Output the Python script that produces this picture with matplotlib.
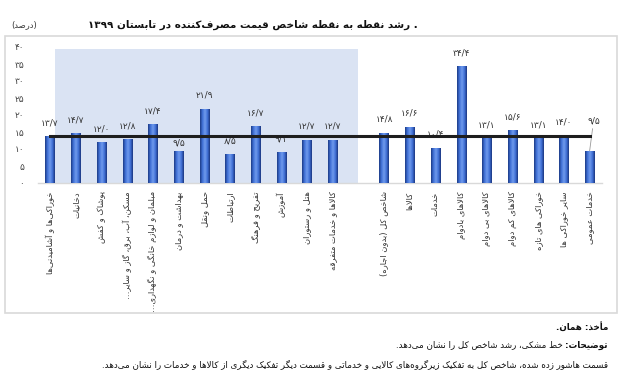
import re
import unicodedata
import matplotlib
matplotlib.use('Agg')
import matplotlib.pyplot as plt
import numpy as np
from matplotlib.colors import LinearSegmentedColormap
from matplotlib.patches import Rectangle

# sub-groups of the index (shaded part)
cats_a = ['خوراکی‌ها و آشامیدنی‌ها', 'دخانیات', 'پوشاک و کفش',
          'مسکن، آب، برق، گاز و سایر…', 'مبلمان و لوازم خانگی و نگهداری…',
          'بهداشت و درمان', 'حمل ونقل', 'ارتباطات', 'تفریح و فرهنگ', 'آموزش',
          'هتل و رستوران', 'کالاها و خدمات متفرقه']
vals_a = [13.7, 14.7, 12.0, 12.8, 17.4, 9.5, 21.9, 8.5, 16.7, 9.1, 12.7, 12.7]

# other breakdown
cats_b = ['شاخص کل (بدون اجاره)', 'کالاها', 'خدمات', 'کالاهای بادوام',
          'کالاهای بی دوام', 'کالاهای کم دوام', 'خوراکی های تازه',
          'سایر خوراکی ها', 'خدمات عمومی']
vals_b = [14.8, 16.6, 10.4, 34.4, 13.1, 15.6, 13.1, 14.0, 9.5]

total_growth = 13.8
yticks = [0, 5, 10, 15, 20, 25, 30, 35, 40]

title = '. رشد نقطه به نقطه شاخص قیمت مصرف‌کننده در تابستان ۱۳۹۹'
unit = '(درصد)'
source = 'مأخذ: همان.'
note_head = 'توضیحات:'
note_body = 'خط مشکی، رشد شاخص کل را نشان می‌دهد.'
note2 = 'قسمت هاشور زده شده، شاخص کل به تفکیک زیرگروه‌های کالایی و خدماتی و قسمت دیگر تفکیک دیگری از کالاها و خدمات را نشان می‌دهد.'


# --- minimal persian shaping + rtl ordering (matplotlib has none) ---
NON_LEFT = set('اآأإدذرزژوؤ')
LAM_ALEF = {'ا': '\ufefb', 'أ': '\ufef7', 'إ': '\ufef9', 'آ': '\ufef5'}


def joiner(c):
    return unicodedata.name(c, '').startswith('ARABIC LETTER') and c != 'ء'


def pform(c, kind):
    try:
        return unicodedata.lookup(unicodedata.name(c) + ' ' + kind + ' FORM')
    except KeyError:
        return c


def fa(s):
    out = []
    i = 0
    while i < len(s):
        c = s[i]
        if not joiner(c):
            if c != '\u200c':
                out.append(c)
            i += 1
            continue
        prev = s[i - 1] if i else ''
        nxt = s[i + 1] if i + 1 < len(s) else ''
        jp = bool(prev) and joiner(prev) and prev not in NON_LEFT
        if c == 'ل' and nxt in LAM_ALEF and nxt:
            lig = LAM_ALEF[nxt]
            out.append(chr(ord(lig) + 1) if jp else lig)
            i += 2
            continue
        jn = bool(nxt) and joiner(nxt) and c not in NON_LEFT
        kind = {(True, True): 'MEDIAL', (True, False): 'FINAL',
                (False, True): 'INITIAL', (False, False): 'ISOLATED'}[(jp, jn)]
        out.append(pform(c, kind))
        i += 1
    toks = re.findall(r'[0-9۰-۹]+(?:[/٫.][0-9۰-۹]+)*|.', ''.join(out), re.S)
    mirror = {'(': ')', ')': '('}
    return ''.join(mirror.get(t, t) for t in reversed(toks))


def fnum(v, fmt='{:.1f}'):
    return fmt.format(v).translate(str.maketrans('0123456789.', '۰۱۲۳۴۵۶۷۸۹/'))


W, H = 629, 384


def px(x, y):
    return x / W, 1 - y / H


plt.rcParams['font.family'] = ['DejaVu Sans']
fig = plt.figure(figsize=(W / 100, H / 100), dpi=100)

# frame around chart
fig.patches.append(Rectangle(px(5, 313), 612 / W, 277 / H, transform=fig.transFigure,
                             fill=False, edgecolor='#d9d9d9', lw=1.2))

l, b = px(38, 183)
r, t = px(602, 47)
ax = fig.add_axes([l, b, r - l, t - b])

cats = cats_a + cats_b
vals = vals_a + vals_b
xs = list(range(len(cats_a))) + [len(cats_a) + 1 + i for i in range(len(cats_b))]

ax.add_patch(Rectangle((0.2, 0), len(cats_a) - 0.2, 39.4, facecolor='#dae3f3',
                       edgecolor='none', zorder=0))

bars = ax.bar(xs, vals, width=0.36, color='#3a63c2', zorder=2)
cmap = LinearSegmentedColormap.from_list('cyl', ['#1c3a86', '#4272d8', '#6f9aec', '#4272d8', '#1a3680'])
grad = np.linspace(0, 1, 64).reshape(1, -1)
for p in bars:
    x0, y0 = p.get_x(), p.get_y()
    im = ax.imshow(grad, extent=[x0, x0 + p.get_width(), y0, y0 + p.get_height()],
                   aspect='auto', cmap=cmap, zorder=3)
    im.set_clip_path(p)

ax.plot([xs[0], xs[-1]], [total_growth, total_growth], color='#1e1e1e', lw=2.2, zorder=4)

for i, (x, v) in enumerate(zip(xs, vals)):
    if x == xs[-1]:
        ax.annotate(fnum(v), xy=(x, v), xytext=(x + 0.15, v + 7.3), ha='center',
                    va='bottom', fontsize=6.5, color='#333333',
                    arrowprops=dict(arrowstyle='-', color='#999999', lw=0.6, shrinkA=0, shrinkB=0))
    else:
        off = 0.9 if i == 5 else 2.6
        ax.text(x, v + off, fnum(v), ha='center', va='bottom', fontsize=6.5,
                color='#333333', zorder=1)

ax.set_xlim(-0.47, 21.48)
ax.set_ylim(0, 40)
ax.set_yticks(yticks)
ax.set_yticklabels([fnum(v, '{:d}') for v in yticks], fontsize=6.5, color='#444444')
ax.set_xticks(xs)
ax.set_xticklabels([fa(c) for c in cats], rotation=90, va='top', ha='center',
                   fontsize=6, color='#333333')
ax.tick_params(length=0, pad=6)
ax.tick_params(axis='y', pad=10)
for s in ['top', 'right', 'left']:
    ax.spines[s].set_visible(False)
ax.spines['bottom'].set_color('#d9d9d9')
ax.spines['bottom'].set_linewidth(1.0)
ax.patch.set_alpha(0)

fig.text(*px(253, 25), fa(title), ha='center', va='center', fontsize=7.5,
         fontweight='bold', color='#111111')
fig.text(*px(24, 25), fa(unit), ha='center', va='center', fontsize=6, color='#333333')

# notes below the chart
fig.text(*px(608, 327), fa(source), ha='right', va='center', fontsize=6.3,
         fontweight='bold', color='#111111')
head = fig.text(*px(608, 345), fa(note_head), ha='right', va='center', fontsize=6.3,
                fontweight='bold', color='#111111')
rend = fig.canvas.get_renderer()
hx0 = head.get_window_extent(rend).x0
fig.text((hx0 - 3) / W, 1 - 345 / H, fa(note_body), ha='right', va='center',
         fontsize=6.3, color='#111111')
fig.text(*px(608, 364), fa(note2), ha='right', va='center', fontsize=6.3, color='#111111')

fig.savefig('out.png', dpi=100)
